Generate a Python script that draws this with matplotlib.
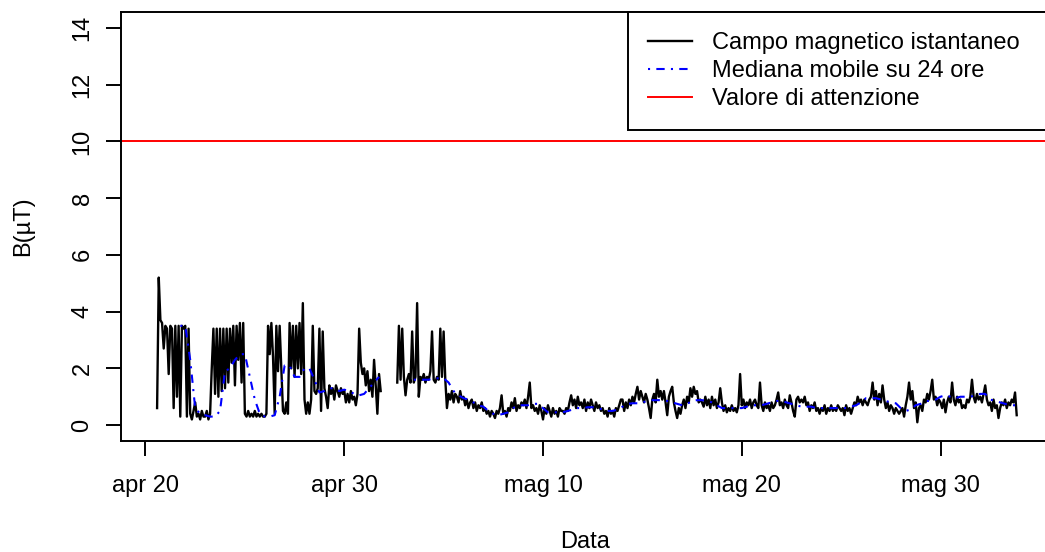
import numpy as np
import pandas as pd
import matplotlib
matplotlib.use("Agg")
import matplotlib.pyplot as plt

nan = np.nan

# campo magnetico istantaneo (uT), un valore ogni 2 ore dal 20 aprile ore 14
campo = [
    0.6, 5.2, 3.7, 3.6, 2.7,                                          # apr 20
    3.5, 3.4, 1.8, 3.5, 3.4, 0.6, 3.5, 1.0, 3.5, 0.3, 3.5, 3.4,       # apr 21
    3.5, 0.3, 3.4, 0.4, 0.2, 0.5, 0.8, 0.3, 0.4, 0.2, 0.5, 0.3,       # apr 22
    0.3, 0.5, 0.2, 0.4, 2.0, 3.4, 1.1, 3.4, 1.0, 3.4, 1.2, 3.4,       # apr 23
    1.3, 3.4, 1.5, 3.4, 2.2, 3.5, 1.4, 3.5, 2.3, 3.6, 1.5, 3.6,       # apr 24
    0.4, 0.3, 0.5, 0.3, 0.4, 0.3, 0.5, 0.3, 0.4, 0.3, 0.4, 0.3,       # apr 25
    0.3, 0.4, 3.5, 2.5, 3.6, 2.4, 0.4, 3.5, 1.9, 3.5, 2.0, 0.5,       # apr 26
    0.4, 0.8, 0.4, 3.6, 2.0, 3.5, 1.7, 3.5, 2.0, 3.6, 1.8, 4.3,       # apr 27
    0.9, 0.4, 0.8, 0.4, 0.9, 3.5, 1.2, 1.1, 1.3, 3.4, 0.5, 3.3,       # apr 28
    1.3, 1.0, 0.6, 1.4, 1.1, 1.3, 0.9, 1.4, 1.2, 1.0, 1.3, 1.1,       # apr 29
    1.2, 0.8, 1.1, 0.8, 1.2, 0.9, 1.0, 0.7, 1.1, 3.4, 2.2, 1.8,       # apr 30
    2.0, 1.4, 1.9, 1.2, 1.6, 1.0, 2.3, 1.4, 0.4, 1.8, 1.2, nan,       # mag 1
    nan, nan, nan, nan, nan, nan, nan, nan, 1.5, 3.5, 1.6, 3.4,       # mag 2
    1.7, 1.05, 1.6, 1.8, 1.5, 3.3, 1.5, 1.7, 4.3, 1.0, 1.7, 1.6,      # mag 3
    1.8, 1.5, 1.7, 1.6, 1.9, 3.3, 1.6, 1.5, 1.7, 1.6, 3.4, 1.7,       # mag 4
    3.3, 1.6, 0.6, 1.1, 0.9, 1.2, 0.8, 1.1, 1.0, 0.8, 1.2, 0.9,       # mag 5
    1.0, 0.7, 0.9, 0.6, 0.8, 0.9, 0.6, 0.8, 0.5, 0.7, 0.6, 0.8,       # mag 6
    0.5, 0.6, 0.4, 0.5, 0.3, 0.5, 0.4, 0.25, 0.5, 0.4, 0.6, 1.05,     # mag 7
    0.4, 0.5, 0.3, 0.6, 0.5, 0.8, 0.6, 0.95, 0.5, 0.7, 0.6, 0.8,      # mag 8
    0.7, 0.9, 0.6, 1.0, 1.5, 0.6, 0.7, 0.5, 0.6, 0.4, 0.7, 0.5,       # mag 9
    0.2, 0.6, 0.4, 0.7, 0.5, 0.3, 0.6, 0.4, 0.5, 0.3, 0.6, 0.5,       # mag 10
    0.5, 0.4, 0.6, 0.5, 0.8, 1.05, 0.7, 0.9, 0.6, 1.0, 0.7, 0.8,      # mag 11
    0.6, 0.9, 0.5, 0.8, 0.6, 0.9, 0.7, 0.5, 0.8, 0.6, 0.7, 0.5,       # mag 12
    0.6, 0.4, 0.5, 0.3, 0.6, 0.4, 0.5, 0.3, 0.6, 0.5, 0.7, 0.9,       # mag 13
    0.9, 0.5, 0.8, 0.6, 0.9, 0.7, 1.0, 0.8, 1.1, 1.35, 0.9, 1.2,      # mag 14
    1.0, 0.8, 1.1, 0.9, 0.6, 0.25, 0.9, 1.1, 0.8, 1.6, 1.0, 1.2,      # mag 15
    0.9, 1.2, 0.8, 0.35, 1.0, 1.2, 1.35, 0.8, 0.5, 0.25, 0.6, 0.4,    # mag 16
    0.7, 0.9, 0.6, 1.0, 0.8, 1.3, 1.0, 1.35, 1.1, 1.2, 0.8, 0.9,      # mag 17
    0.8, 0.65, 1.0, 0.7, 0.9, 0.6, 1.0, 0.7, 0.9, 0.6, 0.8, 1.3,      # mag 18
    0.8, 0.5, 0.7, 0.45, 0.6, 0.5, 0.7, 0.5, 0.6, 0.45, 0.7, 1.8,     # mag 19
    0.7, 0.9, 0.6, 0.8, 0.7, 0.9, 0.6, 0.8, 0.9, 0.7, 0.6, 1.5,       # mag 20
    0.7, 0.5, 0.8, 0.6, 0.7, 0.5, 0.8, 0.6, 0.7, 0.9, 1.15, 0.7,      # mag 21
    0.8, 0.6, 0.9, 0.7, 0.6, 1.05, 0.8, 0.5, 0.3, 0.9, 1.0, 0.8,      # mag 22
    0.9, 0.8, 1.0, 0.7, 0.8, 0.5, 0.7, 0.6, 0.8, 0.5, 0.6, 0.4,       # mag 23
    0.6, 0.5, 0.7, 0.4, 0.6, 0.5, 0.7, 0.5, 0.6, 0.5, 0.7, 0.6,       # mag 24
    0.5, 0.6, 0.35, 0.7, 0.5, 0.6, 0.4, 0.6, 0.8, 0.7, 1.0, 0.8,      # mag 25
    0.9, 0.7, 0.9, 0.8, 0.7, 0.9, 1.0, 1.5, 0.9, 1.2, 0.7, 1.1,       # mag 26
    0.8, 1.4, 0.9, 0.6, 0.8, 0.5, 0.7, 0.6, 0.4, 0.6, 0.5, 0.4,       # mag 27
    0.5, 0.6, 0.3, 0.7, 1.0, 1.5, 0.9, 1.2, 0.6, 0.8, 0.1, 0.6,       # mag 28
    0.7, 0.5, 0.9, 0.8, 1.1, 0.9, 1.2, 1.6, 0.9, 1.0, 0.7, 0.9,       # mag 29
    0.8, 0.6, 0.9, 0.45, 0.8, 1.0, 0.8, 1.5, 0.9, 0.7, 1.0, 0.8,      # mag 30
    0.9, 0.6, 0.7, 0.6, 0.9, 0.8, 1.0, 1.6, 1.0, 0.8, 1.1, 0.9,       # mag 31
    1.0, 0.8, 1.1, 1.4, 0.9, 0.7, 0.8, 0.5, 0.9, 0.6, 0.7, 0.25,      # giu 1
    0.6, 0.8, 0.7, 0.9, 0.6, 0.8, 0.7, 0.9, 0.8, 1.15, 0.35,          # giu 2
]
inizio_campo = "2020-04-20 14:00"

# mediana mobile su 24 ore, un valore ogni 6 ore dal 21 aprile ore 18
mediana = [
    3.5,                     # apr 21
    3.5, 2.3, 0.6, 0.4,      # apr 22
    0.35, 0.3, 0.3, 0.5,     # apr 23
    1.9, 2.0, 2.3, 2.5,      # apr 24
    2.5, 1.7, 0.9, 0.4,      # apr 25
    0.3, 0.3, 0.35, 1.0,     # apr 26
    2.1, 2.1, 1.7, 1.7,      # apr 27
    2.0, 2.0, 1.6, 1.15,     # apr 28
    1.2, 1.3, 1.3, 1.2,      # apr 29
    1.25, 1.2, 1.1, 1.05,    # apr 30
    1.1, 1.3, 1.5, 1.7,      # mag 1
    nan, nan, nan, nan,      # mag 2
    nan, nan, 1.6, 1.6,      # mag 3
    1.6, 1.6, 1.65, 1.65,    # mag 4
    1.65, 1.5, 1.2, 1.05,    # mag 5
    0.95, 0.9, 0.8, 0.7,     # mag 6
    0.65, 0.5, 0.4, 0.35,    # mag 7
    0.4, 0.45, 0.6, 0.7,     # mag 8
    0.7, 0.7, 0.75, 0.75,    # mag 9
    0.6, 0.45, 0.45, 0.45,   # mag 10
    0.45, 0.5, 0.55, 0.6,    # mag 11
    0.6, 0.63, 0.63, 0.6,    # mag 12
    0.55, 0.5, 0.5, 0.55,    # mag 13
    0.65, 0.75, 0.77, 0.77,  # mag 14
    0.8, 0.85, 0.88, 0.88,   # mag 15
    0.88, 0.85, 0.8, 0.75,   # mag 16
    0.7, 0.75, 0.85, 0.88,   # mag 17
    0.88, 0.85, 0.8, 0.7,    # mag 18
    0.6, 0.6, 0.6, 0.6,      # mag 19
    0.6, 0.65, 0.7, 0.7,     # mag 20
    0.7, 0.75, 0.8, 0.85,    # mag 21
    0.85, 0.8, 0.75, 0.7,    # mag 22
    0.65, 0.65, 0.65, 0.6,   # mag 23
    0.6, 0.6, 0.6, 0.6,      # mag 24
    0.6, 0.6, 0.65, 0.7,     # mag 25
    0.8, 0.95, 0.95, 0.95,   # mag 26
    0.9, 0.85, 0.8, 0.77,    # mag 27
    0.6, 0.5, 0.55, 0.7,     # mag 28
    0.75, 0.85, 0.85, 0.9,   # mag 29
    1.0, 1.05, 1.0, 0.95,    # mag 30
    1.0, 1.0, 1.0, 1.05,     # mag 31
    1.1, 1.1, 0.9, 0.85,     # giu 1
    0.8, 0.75, 0.7, 0.7,     # giu 2
]
inizio_mediana = "2020-04-21 18:00"

valore_attenzione = 10

tick_date = ["2020-04-20", "2020-04-30", "2020-05-10", "2020-05-20", "2020-05-30"]
tick_etichette = ["apr 20", "apr 30", "mag 10", "mag 20", "mag 30"]
y_ticks = [0, 2, 4, 6, 8, 10, 12, 14]
legenda = ["Campo magnetico istantaneo", "Mediana mobile su 24 ore", "Valore di attenzione"]

plt.rcParams["font.family"] = ["Liberation Sans", "DejaVu Sans"]
fs = 17

t_campo = pd.date_range(inizio_campo, periods=len(campo), freq="2h")
t_mediana = pd.date_range(inizio_mediana, periods=len(mediana), freq="6h")

W, H = 1045, 552
fig = plt.figure(figsize=(W / 100, H / 100), dpi=100)
# plot region in pixels: left 121, right 1049, top 12, bottom 441
ax = fig.add_axes([121 / W, (H - 441) / H, 928 / W, 429 / H])

l1, = ax.plot(t_campo, campo, color="black", lw=1.7)
l2, = ax.plot(t_mediana, mediana, color="blue", lw=1.5, linestyle=(0, (1, 3, 4, 3)))
l3 = ax.axhline(valore_attenzione, color="red", lw=1.4)

ax.set_xlim(pd.Timestamp("2020-04-18 18:25"), pd.Timestamp("2020-06-04 11:00"))
ax.set_ylim(-0.56, 14.56)

ax.set_xticks(pd.to_datetime(tick_date))
ax.set_xticklabels(tick_etichette, fontsize=fs)
ax.set_yticks(y_ticks)
ax.set_yticklabels([str(v) for v in y_ticks], fontsize=fs, rotation=90, va="center")
ax.tick_params(axis="both", length=10.8, width=1.4, color="black")
ax.tick_params(axis="x", pad=14)
ax.tick_params(axis="y", pad=9)
for s in ax.spines.values():
    s.set_linewidth(1.4)

ax.set_xlabel("Data", fontsize=fs)
ax.xaxis.set_label_coords(0.5, -0.21)
ax.set_ylabel("B(µT)", fontsize=fs)
ax.yaxis.set_label_coords(-0.094, 0.5)

leg = ax.legend([l1, l2, l3], legenda, loc="upper left",
                bbox_to_anchor=((628 - 121) / 928, 0, (1049 - 628) / 928, 1),
                mode="expand", borderaxespad=0, fontsize=fs, fancybox=False,
                framealpha=1, edgecolor="black", handlelength=1.87,
                handletextpad=0.83, borderpad=0.85, labelspacing=0.25)
leg.get_frame().set_linewidth(1.4)

fig.savefig("out.png", dpi=100)
